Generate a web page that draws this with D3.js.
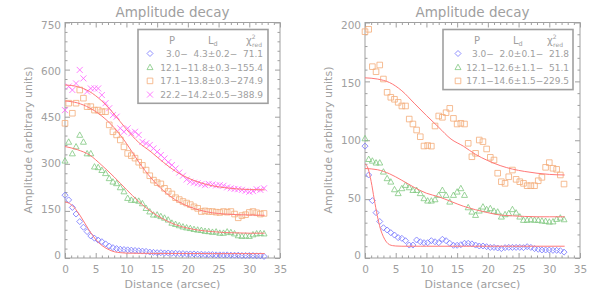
<!DOCTYPE html>
<html>
<head>
<meta charset="utf-8">
<script src="https://cdn.jsdelivr.net/npm/d3@7"></script>
<style>
  body { margin: 0; background: #fff; }
  svg { display: block; }
  text { font-family: "DejaVu Sans", sans-serif; fill: #a0a0a0; }
</style>
</head>
<body>
<svg id="chart" width="600" height="300"></svg>
<script>
// radial distance samples (arcsec), shared by every profile
const distance = [
  0, 0.6, 1.2, 1.8, 2.4, 3.0, 3.6, 4.2, 4.8, 5.4,
  6.0, 6.6, 7.2, 7.8, 8.4, 9.0, 9.6, 10.2, 10.8, 11.4,
  12.0, 12.6, 13.2, 13.8, 14.4, 15.0, 15.6, 16.2, 16.8, 17.4,
  18.0, 18.6, 19.2, 19.8, 20.4, 21.0, 21.6, 22.2, 22.8, 23.4,
  24.0, 24.6, 25.2, 25.8, 26.4, 27.0, 27.6, 28.2, 28.8, 29.4,
  30.0, 30.6, 31.2, 31.8, 32.4
];

// left panel profiles
const leftP3 = [
  200, 185, 161, 140, 116, 98, 84, 70, 63, 57,
  52, 45, 38, 33, 30, 28, 27, 26, 25, 24,
  23, 22, 21, 19, 18, 17, 17, 16, 16, 15,
  15, 14, 14, 13, 13, 13, 12, 12, 11, 11,
  11, 10, 10, 10, 10, 9, 9, 9, 8, 8,
  8, 8, 7, 7, 5
];
const leftP12 = [
  310, 370, 333, 355, 392, 370, 333, 333, 291, 289,
  280, 270, 254, 243, 238, 225, 212, 191, 185, 185,
  182, 174, 159, 148, 138, 138, 133, 128, 122, 112,
  108, 104, 100, 97, 95, 92, 90, 89, 86, 85,
  83, 84, 80, 80, 84, 82, 78, 72, 70, 71,
  70, 75, 78, 79, 78
];
const leftP17 = [
  429, 493, 461, 493, 535, 509, 482, 482, 471, 471,
  466, 466, 424, 402, 392, 376, 354, 333, 326, 318,
  305, 295, 280, 262, 248, 240, 236, 222, 212, 204,
  192, 186, 180, 175, 170, 163, 158, 148, 150, 148,
  148, 146, 145, 148, 146, 148, 140, 128, 135, 138,
  145, 148, 144, 140, 142
];
const leftP22 = [
  471, 546, 535, 556, 599, 572, 530, 540, 540, 540,
  519, 493, 477, 455, 450, 413, 402, 413, 397, 402,
  392, 370, 365, 360, 349, 338, 328, 317, 305, 296,
  285, 272, 262, 250, 243, 240, 238, 235, 232, 236,
  234, 231, 232, 230, 225, 222, 220, 219, 217, 214,
  211, 213, 219, 217, 222
];

// right panel profiles
const rightP3 = [
  95, 70.5, 48.7, 38.5, 31, 25.7, 23.8, 21.5, 19.5, 17.3,
  16.7, 14.7, 11, 11, 15.3, 13.8, 13, 13, 14.7, 13.8,
  13, 15.9, 14.7, 12.5, 10.8, 10.8, 11.3, 12.5, 12.5, 12,
  11, 10.2, 10.2, 9.6, 9, 9, 8.5, 8, 8.8, 9,
  9, 9, 9, 8.8, 9.6, 9, 8, 7.4, 6.8, 6.8,
  6.8, 6.5, 6.5, 6.2, 5
];
const rightP12 = [
  101.6, 84, 82.6, 81, 81, 73.3, 67.7, 64.8, 58.3, 55,
  59.2, 62, 60, 57.7, 57.7, 55, 50.7, 48.7, 48.7, 49.8,
  53.5, 57.7, 53.5, 47.8, 53.5, 56.3, 59.2, 53.5, 43, 39.3,
  36.5, 40.2, 43.6, 41.4, 42.2, 40, 39.3, 35.1, 37.1, 38,
  41.4, 38.5, 35.1, 32.3, 32.3, 32.8, 32.3, 32.3, 31.7, 31.4,
  30.8, 31, 33.1, 34.2, 32.8
];
const rightP17 = [
  192.2, 194.2, 162.5, 158.2, 163.9, 152, 140.7, 136.5, 134.8, 132.2,
  129.1, 129.1, 118, 113.8, 108.7, 103, 95.1, 95.5, 95, 112.1,
  120.6, 119.5, 123.4, 127.1, 118.6, 113.8, 114.4, 113.8, 97.4, 86,
  88.9, 100.2, 98.8, 92.6, 85.5, 83.2, 72, 64.8, 63.4, 69,
  74.7, 66.8, 64.8, 63.4, 61.4, 61.4, 61.4, 65.6, 68.5, 77,
  81, 76.2, 75.3, 70.5, 62.8
];

// fitted curves
const fitDist = [0, 2, 4, 6, 8, 10, 12, 14, 16, 18, 20, 22, 24, 26, 28, 30, 32.5];
const fitDistFine = [0, 0.5, 1, 1.5, 2, 2.5, 3, 3.5, 4, 4.5, 5, 6, 7, 8, 9, 10, 12, 16, 20, 24, 28, 32.5];
const leftFitP3 = [178, 176, 170, 161, 148, 134, 118, 102, 86, 72, 59, 40, 28, 20, 17, 15.5, 15, 14.5, 14.5, 14, 14, 14];
const leftFitP12 = [355, 345, 328, 295, 258, 218, 180, 148, 124, 106, 95, 88, 84, 81, 80, 79, 79];
const leftFitP17 = [500, 494, 478, 452, 415, 365, 306, 255, 215, 185, 165, 152, 144, 140, 138, 137, 136];
const leftFitP22 = [551, 546, 530, 500, 458, 410, 368, 338, 305, 276, 255, 240, 230, 224, 220, 218, 217];
const rightFitP3 = [80, 76, 65, 50, 36, 25, 18, 13.5, 11.3, 10.5, 10.2, 10, 10, 10, 10, 10, 10, 10, 10, 10, 10, 10];
const rightFitP12 = [76, 75, 71.5, 66, 60, 55, 52, 48, 44, 41, 38.5, 36.5, 35.8, 35.3, 35, 35, 35];
const rightFitP17 = [153, 152, 149, 142, 131.5, 121, 111, 101, 95, 88, 82.7, 78.5, 75.5, 73.5, 72, 71, 70.5];

// legend text
const legendLeft = [
  "\u20073.0\u2212\u20074.3\u00b10.2\u2212\u200771.1",
  "12.1\u221211.8\u00b10.3\u2212155.4",
  "17.1\u221213.8\u00b10.3\u2212274.9",
  "22.2\u221214.2\u00b10.5\u2212388.9"
];
const legendRight = [
  "\u20073.0\u2212\u20072.0\u00b10.1\u2212\u200721.8",
  "12.1\u221212.6\u00b11.1\u2212\u200751.1",
  "17.1\u221214.6\u00b11.5\u2212229.5"
];

const xTicks = [0, 5, 10, 15, 20, 25, 30, 35];
const leftYTicks = [0, 150, 300, 450, 600, 750];
const rightYTicks = [0, 50, 100, 150, 200];

const AXIS = '#a0a0a0';
const FIT = '#ff7878';
const COLORS = { p3: '#7474ff', p12: '#80c880', p17: '#f4ac78', p22: '#ff60ff' };

const svg = d3.select('#chart');

// open IDL-style plot symbols
function symbolPath(kind, r) {
  if (kind === 'diamond') return `M0,${-r}L${r},0L0,${r}L${-r},0Z`;
  if (kind === 'triangle') return `M0,${-r}L${r},${r * 0.8}L${-r},${r * 0.8}Z`;
  if (kind === 'square') return `M${-r},${-r}H${r}V${r}H${-r}Z`;
  return `M${-r},${-r}L${r},${r}M${-r},${r}L${r},${-r}`;
}

function drawPanel(p) {
  const x = d3.scaleLinear().domain([0, 35]).range([p.left, p.left + 215]);
  const y = d3.scaleLinear().domain([0, p.yMax]).range([258, 22.5]);
  const g = svg.append('g');

  // minor ticks
  const xMinor = d3.range(0, 36).filter(v => v % 5 !== 0);
  const yMinor = d3.range(0, p.yMax + 0.001, p.yMinorStep).filter(v => !p.yTicks.includes(v));

  const addAxis = (axis, tr) => {
    const a = g.append('g').attr('transform', tr).call(axis);
    a.select('.domain').remove();
    a.selectAll('line').attr('stroke', AXIS);
    a.selectAll('text').attr('fill', AXIS).style('font-size', '10.5px');
    return a;
  };

  addAxis(d3.axisBottom(x).tickValues(xTicks).tickSize(-5).tickPadding(8), 'translate(0,258)');
  addAxis(d3.axisBottom(x).tickValues(xMinor).tickSize(-2.5).tickFormat(''), 'translate(0,258)');
  addAxis(d3.axisTop(x).tickValues(xTicks).tickSize(-5).tickFormat(''), 'translate(0,22.5)');
  addAxis(d3.axisTop(x).tickValues(xMinor).tickSize(-2.5).tickFormat(''), 'translate(0,22.5)');

  const yl = addAxis(d3.axisLeft(y).tickValues(p.yTicks).tickSize(-5).tickPadding(4), `translate(${p.left},0)`);
  yl.selectAll('text').attr('dy', d => (0.32 + (d / p.yMax - 0.5) * 0.5) + 'em');
  addAxis(d3.axisLeft(y).tickValues(yMinor).tickSize(-2.5).tickFormat(''), `translate(${p.left},0)`);
  addAxis(d3.axisRight(y).tickValues(p.yTicks).tickSize(-5).tickFormat(''), `translate(${p.left + 215},0)`);
  addAxis(d3.axisRight(y).tickValues(yMinor).tickSize(-2.5).tickFormat(''), `translate(${p.left + 215},0)`);

  g.append('rect')
    .attr('x', p.left).attr('y', 22.5)
    .attr('width', 215).attr('height', 235.5)
    .attr('fill', 'none').attr('stroke', AXIS).attr('stroke-width', 1);

  // titles
  g.append('text')
    .attr('x', p.left + 107.5).attr('y', 17)
    .attr('text-anchor', 'middle')
    .style('font-size', '13.5px')
    .text('Amplitude decay');
  g.append('text')
    .attr('x', p.left + 107.5).attr('y', 288)
    .attr('text-anchor', 'middle')
    .style('font-size', '11px')
    .text('Distance (arcsec)');
  g.append('text')
    .attr('transform', `translate(${p.left - 33},140) rotate(-90)`)
    .attr('text-anchor', 'middle')
    .style('font-size', '11px')
    .text('Amplitude (arbitrary units)');

  // data points
  p.series.forEach(s => {
    g.append('g').selectAll('path')
      .data(s.values.map((v, i) => [distance[i], v]))
      .join('path')
      .attr('transform', d => `translate(${x(d[0])},${y(d[1])})`)
      .attr('d', symbolPath(s.kind, s.kind === 'square' ? 2.8 : 3))
      .attr('fill', 'none')
      .attr('stroke', s.color)
      .attr('stroke-width', 0.8);
  });

  // fits
  const line = d3.line().x(d => x(d[0])).y(d => y(d[1])).curve(d3.curveMonotoneX);
  p.fits.forEach(f => {
    g.append('path')
      .datum(f.y.map((v, i) => [f.x[i], v]))
      .attr('d', line)
      .attr('fill', 'none')
      .attr('stroke', FIT)
      .attr('stroke-width', 1);
  });

  // legend
  const lg = p.legend;
  g.append('rect')
    .attr('x', lg.x0).attr('y', 29.5)
    .attr('width', lg.x1 - lg.x0).attr('height', 14 + lg.rows.length * 13.7 + 5)
    .attr('fill', '#fff').attr('stroke', AXIS).attr('stroke-width', 1.6);
  g.append('text').attr('x', lg.pX).attr('y', 44).style('font-size', '10px').text('P');
  const ld = g.append('text').attr('x', lg.lX).attr('y', 44).style('font-size', '10px');
  ld.append('tspan').text('L');
  ld.append('tspan').attr('dy', 2).style('font-size', '6.5px').text('d');
  const chi = g.append('text').attr('x', lg.cX).attr('y', 44).style('font-size', '10px');
  chi.append('tspan').text('\u03c7');
  chi.append('tspan').attr('dy', -5).style('font-size', '6px').text('2');
  chi.append('tspan').attr('dx', -3.5).attr('dy', 8).style('font-size', '6px').text('red');

  lg.rows.forEach((t, i) => {
    const yy = 53.5 + i * 13.7;
    const s = p.series[i];
    g.append('path')
      .attr('transform', `translate(${lg.symX},${yy})`)
      .attr('d', symbolPath(s.kind, s.kind === 'square' ? 2.8 : 3))
      .attr('fill', 'none').attr('stroke', s.color).attr('stroke-width', 0.8);
    g.append('text')
      .attr('x', lg.textX).attr('y', yy + 3.5)
      .attr('text-anchor', 'end')
      .style('font-size', '9px')
      .text(t);
  });
}

drawPanel({
  left: 65, yMax: 750, yTicks: leftYTicks, yMinorStep: 30,
  series: [
    { values: leftP3, kind: 'diamond', color: COLORS.p3 },
    { values: leftP12, kind: 'triangle', color: COLORS.p12 },
    { values: leftP17, kind: 'square', color: COLORS.p17 },
    { values: leftP22, kind: 'x', color: COLORS.p22 }
  ],
  fits: [
    { x: fitDistFine, y: leftFitP3 },
    { x: fitDist, y: leftFitP12 },
    { x: fitDist, y: leftFitP17 },
    { x: fitDist, y: leftFitP22 }
  ],
  legend: { x0: 138, x1: 268, pX: 169, lX: 208, cX: 246, symX: 150, textX: 263, rows: legendLeft }
});

drawPanel({
  left: 365, yMax: 200, yTicks: rightYTicks, yMinorStep: 10,
  series: [
    { values: rightP3, kind: 'diamond', color: COLORS.p3 },
    { values: rightP12, kind: 'triangle', color: COLORS.p12 },
    { values: rightP17, kind: 'square', color: COLORS.p17 }
  ],
  fits: [
    { x: fitDistFine, y: rightFitP3 },
    { x: fitDist, y: rightFitP12 },
    { x: fitDist, y: rightFitP17 }
  ],
  legend: { x0: 443, x1: 573, pX: 474, lX: 513, cX: 547, symX: 458, textX: 569, rows: legendRight }
});
</script>
</body>
</html>
